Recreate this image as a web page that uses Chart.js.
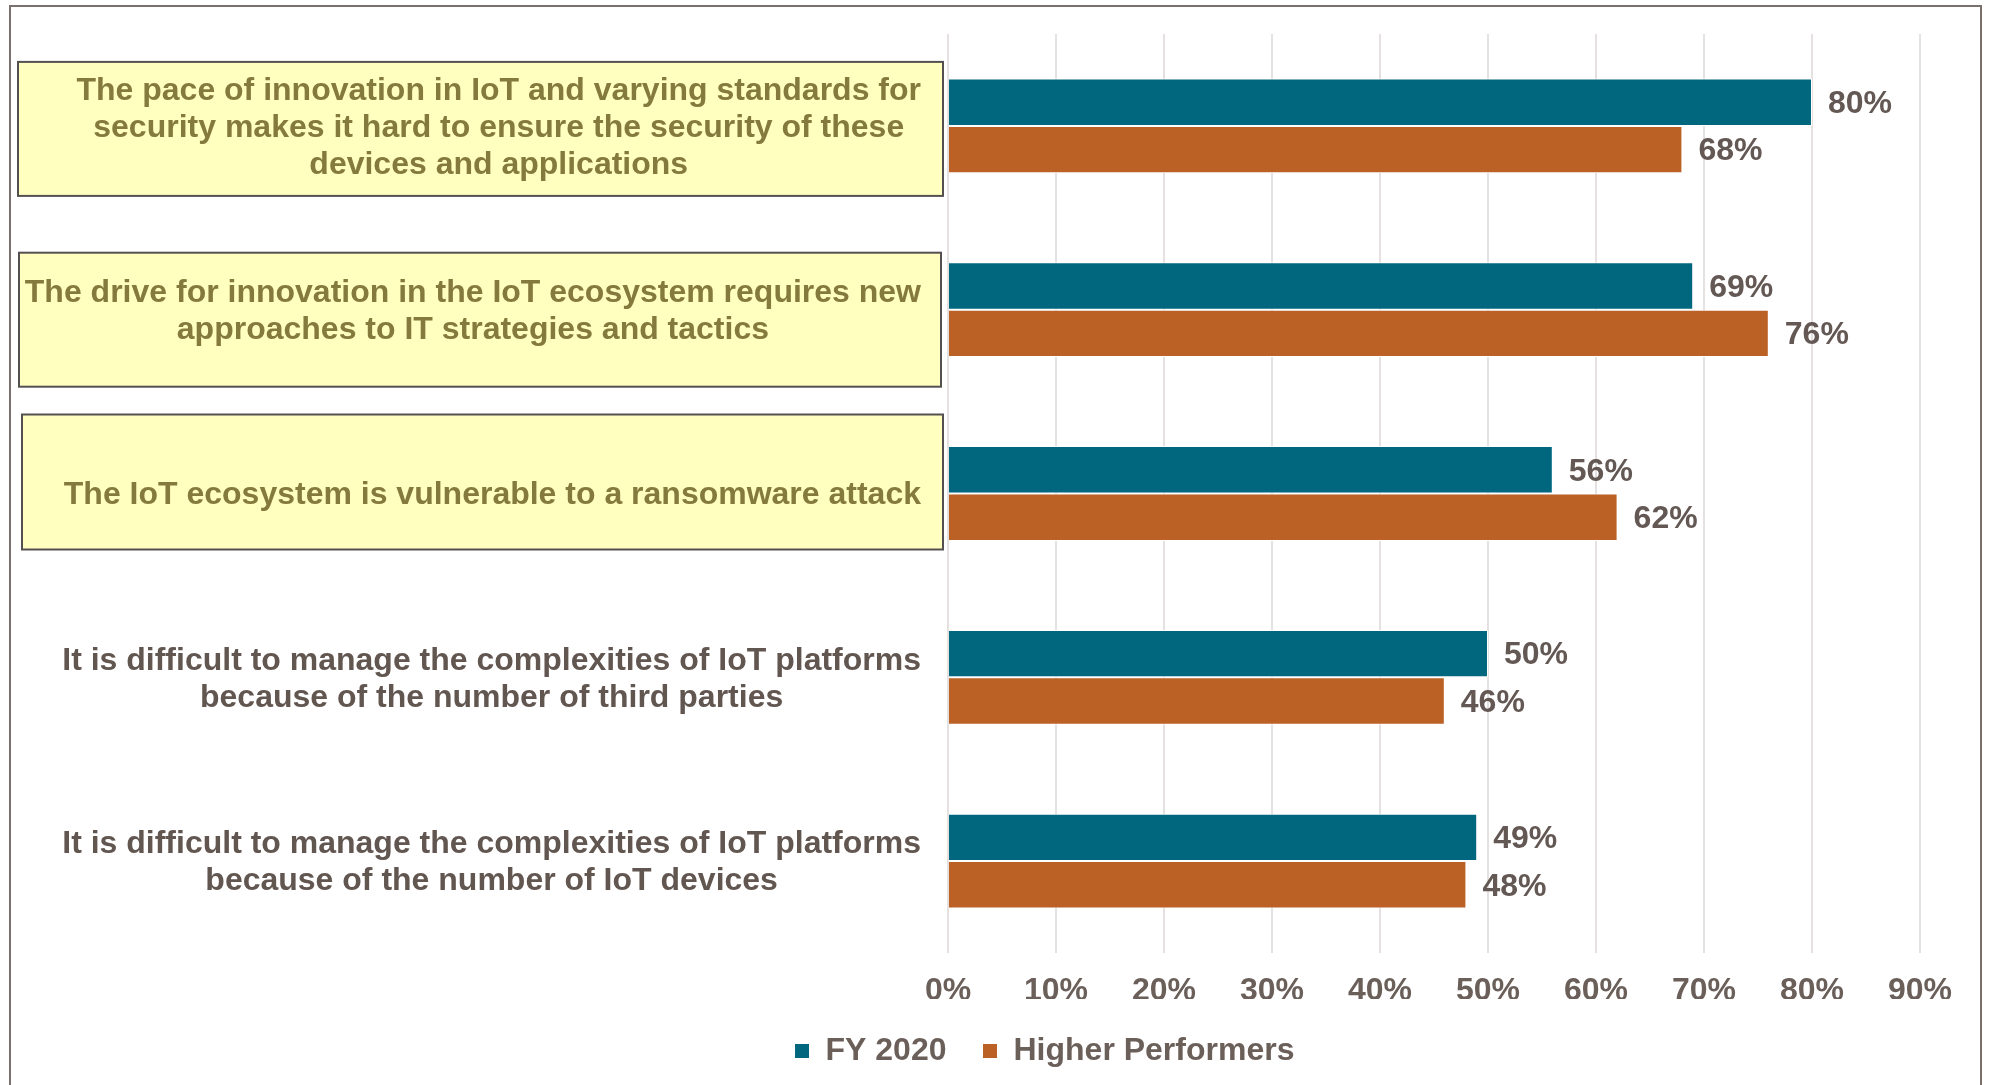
<!DOCTYPE html>
<html>
<head>
<meta charset="utf-8">
<script src="https://cdn.jsdelivr.net/npm/chart.js@4.4.1/dist/chart.umd.min.js"></script>
<style>
  html, body { margin: 0; padding: 0; background: #ffffff; }
  #wrap { width: 1990px; height: 1085px; position: relative; }
</style>
</head>
<body>
<div id="wrap"><canvas id="iotChart"></canvas></div>
<script>
// survey statements, one entry per row, split into lines
const categories = [
  ["The pace of innovation in IoT and varying standards for", "security makes it hard to ensure the security of these", "devices and applications"],
  ["The drive for innovation in the IoT ecosystem requires new", "approaches to IT strategies and tactics"],
  ["The IoT ecosystem is vulnerable to a ransomware attack"],
  ["It is difficult to manage the complexities of IoT platforms", "because of the number of third parties"],
  ["It is difficult to manage the complexities of IoT platforms", "because of the number of IoT devices"]
];
const seriesNames = ["FY 2020", "Higher Performers"];
const fy2020 = [80, 69, 56, 50, 49];
const higherPerformers = [68, 76, 62, 46, 48];
const tickValues = [0, 10, 20, 30, 40, 50, 60, 70, 80, 90];

const colors = ["rgb(0, 103, 127)", "rgb(188, 97, 38)"];
const FONT = "'Liberation Sans', Arial, sans-serif";

// yellow callout boxes behind the first three statements (offsets from row centre)
const callouts = [
  { row: 0, x: 18, w: 925, top: -64, bottom: 70 },
  { row: 1, x: 19, w: 922, top: -57, bottom: 77 },
  { row: 2, x: 22, w: 921, top: -79, bottom: 56 }
];

const framePlugin = {
  id: "frame",
  beforeDraw(chart) {
    const ctx = chart.ctx;
    ctx.save();
    ctx.strokeStyle = "#7a706c";
    ctx.lineWidth = 2;
    ctx.strokeRect(10, 6, 1971, 1200);
    ctx.restore();
  }
};

const rowLabelPlugin = {
  id: "rowLabels",
  afterDraw(chart) {
    const ctx = chart.ctx;
    const yScale = chart.scales.y;
    ctx.save();
    callouts.forEach(b => {
      const cy = yScale.getPixelForValue(b.row);
      ctx.fillStyle = "#ffffc0";
      ctx.fillRect(b.x, cy + b.top, b.w, b.bottom - b.top);
      ctx.strokeStyle = "#555050";
      ctx.lineWidth = 2;
      ctx.strokeRect(b.x, cy + b.top, b.w, b.bottom - b.top);
    });
    ctx.font = "bold 32px " + FONT;
    ctx.textAlign = "center";
    ctx.textBaseline = "middle";
    const rightEdge = 921;
    const lineH = 37;
    categories.forEach((lines, i) => {
      const cy = yScale.getPixelForValue(i) + 2;
      const maxW = Math.max(...lines.map(l => ctx.measureText(l).width));
      const cx = rightEdge - maxW / 2;
      ctx.fillStyle = i < 3 ? "#857a3d" : "#625651";
      lines.forEach((l, k) => {
        ctx.fillText(l, cx, cy + (k - (lines.length - 1) / 2) * lineH);
      });
    });
    ctx.restore();
  }
};

const valueLabelPlugin = {
  id: "valueLabels",
  afterDatasetsDraw(chart) {
    const ctx = chart.ctx;
    ctx.save();
    ctx.font = "bold 32px " + FONT;
    ctx.fillStyle = "#635853";
    ctx.textAlign = "left";
    ctx.textBaseline = "middle";
    chart.data.datasets.forEach((ds, i) => {
      chart.getDatasetMeta(i).data.forEach((bar, j) => {
        ctx.fillText(ds.data[j] + "%", bar.x + 16, bar.y + 2);
      });
    });
    ctx.restore();
  }
};

new Chart(document.getElementById("iotChart"), {
  type: "bar",
  data: {
    labels: categories,
    datasets: [
      { label: seriesNames[0], data: fy2020, backgroundColor: colors[0], borderColor: "#ffffff", borderWidth: 1 },
      { label: seriesNames[1], data: higherPerformers, backgroundColor: colors[1], borderColor: "#ffffff", borderWidth: 1 }
    ]
  },
  options: {
    indexAxis: "y",
    responsive: true,
    maintainAspectRatio: false,
    animation: false,
    events: [],
    categoryPercentage: 0.516,
    barPercentage: 1,
    layout: { padding: { left: 169, right: 70, top: 34, bottom: 8 } },
    scales: {
      x: {
        min: 0,
        max: 90,
        afterBuildTicks: scale => { scale.ticks = tickValues.map(v => ({ value: v })); },
        afterFit: scale => { scale.height = 46; },
        grid: { color: "#e6e1e1", lineWidth: 2, drawTicks: false },
        border: { display: false },
        ticks: {
          padding: 19,
          color: "#6b5f5a",
          font: { family: FONT, size: 32, weight: "bold" },
          callback: v => v + "%"
        }
      },
      y: {
        grid: { display: false },
        border: { display: false },
        ticks: { display: false },
        afterFit: scale => { scale.width = 779; }
      }
    },
    plugins: {
      legend: {
        position: "bottom",
        labels: {
          boxWidth: 15,
          boxHeight: 15,
          padding: 36,
          color: "#6b5f5a",
          font: { family: FONT, size: 32, weight: "bold" }
        }
      },
      tooltip: { enabled: false }
    }
  },
  plugins: [framePlugin, rowLabelPlugin, valueLabelPlugin]
});
</script>
</body>
</html>
